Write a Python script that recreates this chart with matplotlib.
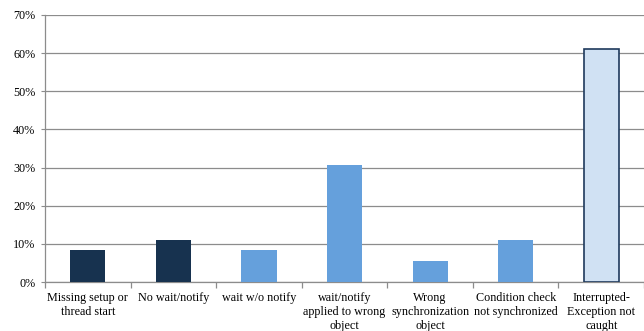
import matplotlib
matplotlib.use("Agg")
import matplotlib.pyplot as plt
from matplotlib.ticker import FixedLocator, FuncFormatter
import numpy as np

categories = ["Missing setup or\nthread start", "No wait/notify", "wait w/o notify",
              "wait/notify\napplied to wrong\nobject", "Wrong\nsynchronization\nobject",
              "Condition check\nnot synchronized", "Interrupted-\nException not\ncaught"]
values = [8.3, 11.1, 8.3, 30.6, 5.6, 11.1, 61.1]
colors = ["#17324f", "#17324f", "#65a0dc", "#65a0dc", "#65a0dc", "#65a0dc", "#d0e1f3"]
edges = ["none", "none", "none", "none", "none", "none", "#1f3a5c"]

plt.rcParams['font.family'] = ['Liberation Serif', 'DejaVu Serif']
fig = plt.figure(figsize=(6.44, 3.31), dpi=100)
ax = fig.add_axes([0.07, 0.148, 0.93, 0.807])

x = np.arange(len(categories))
for i in range(len(categories)):
    ax.bar(x[i], values[i], width=0.41, color=colors[i],
           edgecolor=edges[i], linewidth=1.2 if edges[i] != "none" else 0, zorder=3)

ax.set_xlim(-0.5, len(categories) - 0.5)
ax.set_ylim(0, 70)
ax.set_yticks(np.arange(0, 71, 10))
ax.yaxis.set_major_formatter(FuncFormatter(lambda v, p: f"{int(v)}%"))
ax.grid(axis='y', color='#8c8c8c', linewidth=0.9, zorder=0)
ax.set_axisbelow(True)

ax.set_xticks(x)
ax.set_xticklabels(categories, fontsize=8.7, linespacing=1.25)
ax.xaxis.set_minor_locator(FixedLocator(np.arange(-0.5, len(categories), 1.0)))
ax.tick_params(axis='x', which='major', length=0, pad=7)
ax.tick_params(axis='x', which='minor', length=4, color='#8c8c8c', width=0.9)
ax.tick_params(axis='y', length=3, color='#8c8c8c', labelsize=8.7, pad=4)

for s in ['top', 'right']:
    ax.spines[s].set_visible(False)
for s in ['left', 'bottom']:
    ax.spines[s].set_color('#8c8c8c')
    ax.spines[s].set_linewidth(0.9)

fig.savefig("out.png", dpi=100)
